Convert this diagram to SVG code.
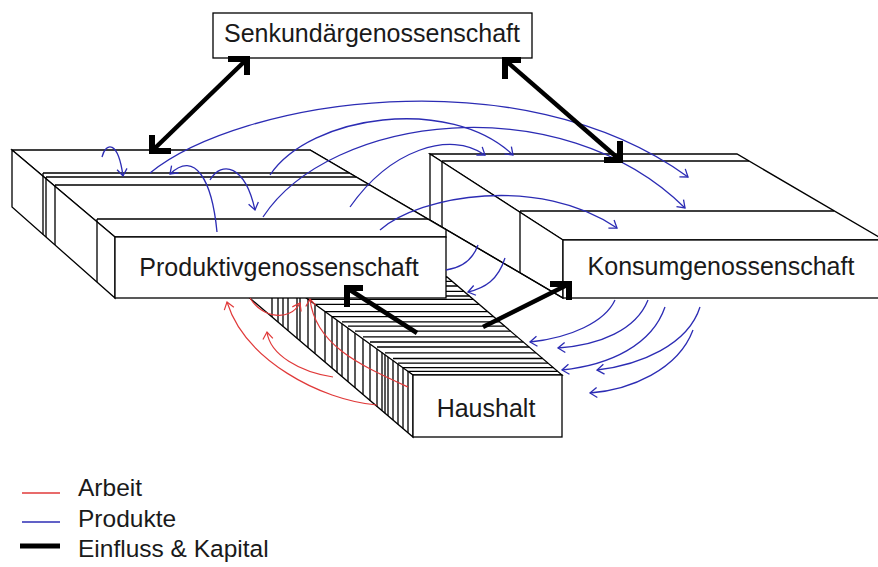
<svg xmlns="http://www.w3.org/2000/svg" width="878" height="567" viewBox="0 0 878 567">
<style>
  .face{fill:#fff;stroke:#000;stroke-width:1.3;stroke-linejoin:miter}
  .edge{fill:none;stroke:#000;stroke-width:1.3}
  .lbl{font-family:"Liberation Sans",Arial,sans-serif;font-size:25px;fill:#1a1a1a}
  .leg{font-family:"Liberation Sans",Arial,sans-serif;font-size:24.5px;fill:#1a1a1a}
  .blue{fill:none;stroke:#2c2cb4;stroke-width:1.3}
  .blue.arr{marker-end:url(#tipB)}
  .red{fill:none;stroke:#e03a3a;stroke-width:1.2}
  .red.arr{marker-end:url(#tipR)}
  .flow{fill:none;stroke:#000;stroke-width:4.5}
</style>
<defs>
  <marker id="tipB" markerUnits="userSpaceOnUse" viewBox="-12 -12 24 24" markerWidth="24" markerHeight="24" refX="0" refY="0" orient="auto">
    <path d="M-7,-5 L0,0 L-7,5" fill="none" stroke="#2c2cb4" stroke-width="1.3"/>
  </marker>
  <marker id="tipR" markerUnits="userSpaceOnUse" viewBox="-12 -12 24 24" markerWidth="24" markerHeight="24" refX="0" refY="0" orient="auto">
    <path d="M-7,-5 L0,0 L-7,5" fill="none" stroke="#e03a3a" stroke-width="1.2"/>
  </marker>
  <!-- square corner tip, arms to the left and downward; rotated copies for the other corners -->
  <path id="corner" d="M-19,0 L0,0 L0,16" fill="none" stroke="#000" stroke-width="6" stroke-linejoin="miter"/>
  <marker id="k0" markerUnits="userSpaceOnUse" viewBox="-25 -25 50 50" markerWidth="50" markerHeight="50" refX="0" refY="0" orient="0"><use href="#corner"/></marker>
  <marker id="k90" markerUnits="userSpaceOnUse" viewBox="-25 -25 50 50" markerWidth="50" markerHeight="50" refX="0" refY="0" orient="90"><use href="#corner"/></marker>
  <marker id="k180" markerUnits="userSpaceOnUse" viewBox="-25 -25 50 50" markerWidth="50" markerHeight="50" refX="0" refY="0" orient="180"><use href="#corner"/></marker>
  <marker id="k270" markerUnits="userSpaceOnUse" viewBox="-25 -25 50 50" markerWidth="50" markerHeight="50" refX="0" refY="0" orient="270"><use href="#corner"/></marker>
</defs>
<rect width="878" height="567" fill="#fff"/>

<!-- Konsumgenossenschaft: stacked slabs receding to the upper left -->
<g id="konsum">
  <polygon class="face" points="430,154 737,154 884,240 563,240"/>
  <polygon class="face" points="430,154 563,240 563,298 430,220"/>
  <path class="edge" d="M442,161 H749 M520,211 H834 M442,161 V227 M520,211 V273"/>
  <rect class="face" x="563" y="240" width="330" height="58"/>
  <text class="lbl" x="721" y="275" text-anchor="middle">Konsumgenossenschaft</text>
</g>

<!-- Haushalt: long row of thin slabs -->
<g id="haushalt">
  <polygon class="face" points="262,277 447,277 562,375 413,375"/>
  <polygon class="face" points="240,277 277,277 413,375 413,437 252,300 240,290"/>
  <path class="edge" d="M272,277 V317 M278,277.7 V322.1 M283,281.3 V326.4 M288,284.9 V330.6 M297,291.4 V338.3 M300,293.6 V340.8 M308,299.3 V347.7 M315,304.4 V353.6 M325,311.6 V362.1 M332,316.6 V368.1 M337,320.2 V372.3 M342,323.8 V376.6 M348,328.1 V381.7 M355,333.2 V387.7 M363,338.9 V394.5 M370,344 V400.4 M377,349 V406.4 M382,352.6 V410.6 M385,354.8 V413.2 M388,356.9 V415.7 M393,360.5 V420 M398,364.1 V424.2 M403,367.7 V428.5 M408,371.3 V432.8"/>
  <path class="edge" d="M272,277 H447 M283,281.3 H452 M288,286 H457.6 M297,291.4 H463.9 M300,296 H469.3 M308,299.3 H473.2 M315,304.4 H479.2 M325,311.6 H487.6 M332,316.6 H493.5 M342,321.8 H499.6 M348,326.1 H504.6 M355,331.2 H510.6 M363,336.9 H517.3 M370,342 H523.3 M377,347 H529.2 M385,352.8 H536 M393,358.5 H542.7 M398,363.1 H548 M403,367.7 H553.5 M408,371.3 H557.7"/>
  <rect class="face" x="413" y="375" width="149" height="62"/>
  <text class="lbl" x="486" y="417" text-anchor="middle">Haushalt</text>
</g>

<!-- shared receding edge running from the Produktiv top down to the Konsum front -->
<path class="edge" d="M310,150 L563,298"/>

<!-- Produktivgenossenschaft: stacked slabs receding to the upper left -->
<g id="produktiv">
  <polygon class="face" points="12,150 310,150 446,229.6 446,237 115,237"/>
  <polygon class="face" points="12,150 115,237 115,298 12,207"/>
  <path class="edge" d="M43,173 H349.3 M46,177 H356 M55,185 H369.8 M97,219 H428 M43,173 V234.4 M46,177 V237 M55,185 V245 M97,219 V282"/>
  <rect class="face" x="115" y="237" width="331" height="61"/>
  <text class="lbl" x="279" y="276" text-anchor="middle">Produktivgenossenschaft</text>
</g>

<!-- Senkundärgenossenschaft -->
<g id="senkundaer">
  <rect class="face" x="213" y="13" width="319" height="45"/>
  <text class="lbl" x="372" y="42" text-anchor="middle">Senkundärgenossenschaft</text>
</g>

<g id="connectors">
  <!-- Produkte -->
  <path class="blue arr" d="M150,173 C240,100 520,55 688,177"/>
  <path class="blue arr" d="M263,217 C330,115 560,85 685,208"/>
  <path class="blue arr" d="M270,175 C310,115 450,95 513,155"/>
  <path class="blue arr" d="M350,207 C390,150 450,130 485,155"/>
  <path class="blue arr" d="M380,230 C420,195 540,175 617,228"/>
  <path class="blue arr" d="M102,157 C106,142 118,140 123,176"/>
  <path class="blue arr" d="M217,232 C212,180 195,150 170,174"/>
  <path class="blue arr" d="M210,180 C222,160 245,165 255,210"/>
  <path class="blue" d="M478,245 C472,262 460,268 446,270"/>
  <path class="blue arr" d="M505,258 C498,280 485,288 468,292"/>
  <path class="blue arr" d="M615,300 C605,322 570,338 530,342"/>
  <path class="blue arr" d="M648,300 C636,330 600,345 558,348"/>
  <path class="blue arr" d="M665,307 C652,345 610,365 562,370"/>
  <path class="blue arr" d="M700,307 C688,345 640,365 597,370"/>
  <path class="blue arr" d="M693,330 C678,370 630,390 590,393"/>
  <!-- Arbeit -->
  <path class="red arr" d="M377,405 C320,400 245,360 227,302"/>
  <path class="red arr" d="M333,377 C300,372 270,355 267,332"/>
  <path class="red arr" d="M408,387 C360,365 315,345 310,299"/>
  <path class="red arr" d="M250,298 C262,318 290,322 300,303"/>
  <!-- Einfluss & Kapital -->
  <path class="flow" d="M152,151 L247,59" marker-start="url(#k180)" marker-end="url(#k0)"/>
  <path class="flow" d="M505,60 L620,160" marker-start="url(#k270)" marker-end="url(#k90)"/>
  <path class="flow" d="M417,333 L347,288" marker-end="url(#k270)"/>
  <path class="flow" d="M483,327 L569,284" marker-end="url(#k0)"/>
</g>

<g id="legend">
  <path d="M22,493 H60" stroke="#e03a3a" stroke-width="1.3"/>
  <path d="M22,522 H60" stroke="#2c2cb4" stroke-width="1.3"/>
  <path d="M20,546 H60" stroke="#000" stroke-width="5"/>
  <text class="leg" x="78" y="496">Arbeit</text>
  <text class="leg" x="78" y="527">Produkte</text>
  <text class="leg" x="78" y="557">Einfluss &amp; Kapital</text>
</g>
</svg>
